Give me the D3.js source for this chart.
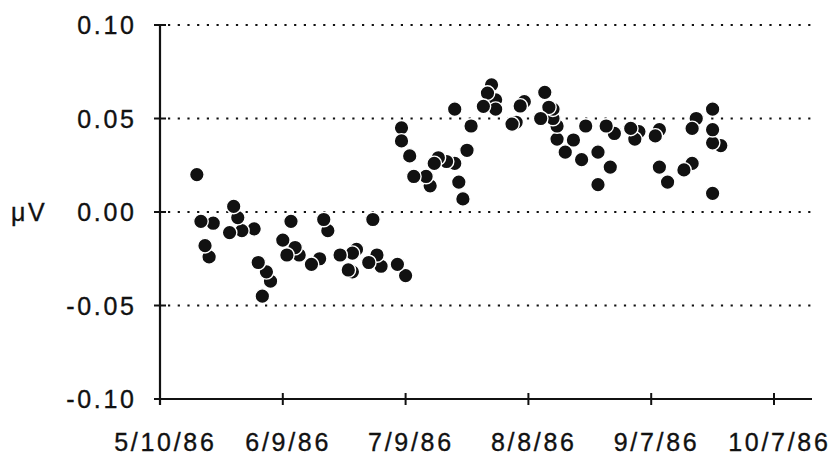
<!DOCTYPE html>
<html lang="en">
<head>
<meta charset="UTF-8">
<title>μV scatter 1986</title>
<style>
  body { margin: 0; background: #fff; }
  svg { display: block; }
  .lbl { font-family: 'Liberation Sans', Arial, sans-serif; font-size: 25px; fill: #111; stroke: #111; stroke-width: 0.35; letter-spacing: 2.7px; }
  .grid line { stroke: #111; stroke-width: 2.2; stroke-dasharray: 2.2 7.5; }
  .dot { fill: #111; stroke: #fff; stroke-width: 1.4; }
</style>
</head>
<body>
<div id="chart"></div>
<script src="https://d3js.org/d3.v7.min.js"></script>
<script>
// measurement dates and values (μV)
const dates = [
  "5/19/86","5/20/86","5/21/86","5/22/86","5/23/86","5/27/86","5/28/86","5/29/86","5/30/86","6/2/86",
  "6/3/86","6/4/86","6/5/86","6/6/86","6/9/86","6/10/86","6/11/86","6/12/86","6/13/86","6/16/86",
  "6/18/86","6/19/86","6/20/86","6/23/86","6/25/86","6/26/86","6/26/86","6/27/86","6/30/86","7/1/86",
  "7/2/86","7/3/86","7/7/86","7/9/86","7/8/86","7/8/86","7/10/86","7/11/86","7/14/86","7/15/86",
  "7/16/86","7/17/86","7/19/86","7/21/86","7/21/86","7/22/86","7/23/86","7/24/86","7/25/86","7/28/86",
  "7/29/86","7/30/86","7/31/86","7/31/86","8/4/86","8/5/86","8/6/86","8/7/86","8/11/86","8/12/86",
  "8/13/86","8/14/86","8/14/86","8/15/86","8/15/86","8/17/86","8/19/86","8/21/86","8/22/86","8/25/86",
  "8/25/86","8/27/86","8/28/86","8/29/86","9/2/86","9/3/86","9/4/86","9/8/86","9/9/86","9/9/86",
  "9/11/86","9/15/86","9/17/86","9/17/86","9/18/86","9/22/86","9/22/86","9/22/86","9/24/86","9/22/86"
];
const values = [
  0.020,-0.005,-0.018,-0.024,-0.006,-0.011,0.003,-0.003,-0.010,-0.009,
  -0.027,-0.045,-0.032,-0.037,-0.015,-0.023,-0.005,-0.019,-0.023,-0.028,
  -0.025,-0.004,-0.010,-0.023,-0.031,-0.022,-0.032,-0.020,-0.027,-0.004,
  -0.023,-0.029,-0.028,-0.034,0.038,0.045,0.030,0.019,0.019,0.014,
  0.026,0.029,0.027,0.026,0.055,0.016,0.007,0.033,0.046,0.0565,
  0.0636,0.068,0.055,0.060,0.047,0.048,0.0567,0.059,0.050,0.064,
  0.056,0.055,0.050,0.046,0.039,0.032,0.0385,0.028,0.046,0.0146,
  0.032,0.046,0.024,0.042,0.0447,0.039,0.043,0.0407,0.044,0.024,
  0.016,0.0225,0.026,0.0447,0.050,0.055,0.044,0.037,0.0355,0.010
];
const xTicks = ["5/10/86","6/9/86","7/9/86","8/8/86","9/7/86","10/7/86"];
const yTicks = [-0.10,-0.05,0.00,0.05,0.10];
const yTitle = "μV";

const W = 830, H = 456;
const parse = d3.timeParse("%m/%d/%y");
const ls = 2.7; // letter spacing, also trails the last glyph

const svg = d3.select("#chart").append("svg")
  .attr("width", W).attr("height", H);

const x = d3.scaleTime()
  .domain([parse(xTicks[0]), parse(xTicks[xTicks.length - 1])])
  .range([160, 774]);
const y = d3.scaleLinear().domain([-0.10, 0.10]).range([399, 25]);
const xEnd = 812;

// dotted grid
svg.append("g").attr("class", "grid")
  .selectAll("line")
  .data(yTicks.filter(v => v > -0.10))
  .join("line")
  .attr("x1", 168).attr("x2", xEnd)
  .attr("y1", d => y(d)).attr("y2", d => y(d));

// axes
const axisG = svg.append("g").attr("stroke", "#111");
axisG.append("line")
  .attr("x1", x.range()[0]).attr("x2", x.range()[0])
  .attr("y1", y(0.10)).attr("y2", y(-0.10) + 6)
  .attr("stroke-width", 2.2);
axisG.append("line")
  .attr("x1", x.range()[0] - 6).attr("x2", xEnd)
  .attr("y1", y(-0.10)).attr("y2", y(-0.10))
  .attr("stroke-width", 2.2);
axisG.selectAll(".yt").data(yTicks).join("line")
  .attr("x1", x.range()[0] - 6).attr("x2", x.range()[0] + 6)
  .attr("y1", d => y(d)).attr("y2", d => y(d))
  .attr("stroke-width", 2);
axisG.selectAll(".xt").data(xTicks).join("line")
  .attr("x1", d => x(parse(d))).attr("x2", d => x(parse(d)))
  .attr("y1", y(-0.10) - 6).attr("y2", y(-0.10) + 6)
  .attr("stroke-width", 2);

// tick labels (plain hyphen for negatives, as in the original)
svg.selectAll(".ylab").data(yTicks).join("text")
  .attr("class", "lbl")
  .attr("x", 134 + ls).attr("y", d => y(d)).attr("dy", "0.36em")
  .attr("text-anchor", "end")
  .text(d => d.toFixed(2));
svg.selectAll(".xlab").data(xTicks).join("text")
  .attr("class", "lbl")
  .attr("x", d => x(parse(d)) + 4 + ls / 2).attr("y", 451)
  .attr("text-anchor", "middle")
  .text(d => d);
svg.append("text").attr("class", "lbl")
  .attr("x", 11).attr("y", y(0)).attr("dy", "0.36em")
  .text(yTitle);

// points: later dates drawn first so earlier ones sit on top
const pts = dates.map((d, i) => ({ date: parse(d), v: values[i], i }));
pts.sort((a, b) => (b.date - a.date) || (b.i - a.i));
svg.append("g").selectAll("circle").data(pts).join("circle")
  .attr("class", "dot")
  .attr("cx", d => x(d.date))
  .attr("cy", d => y(d.v))
  .attr("r", 7.3);
</script>
</body>
</html>
